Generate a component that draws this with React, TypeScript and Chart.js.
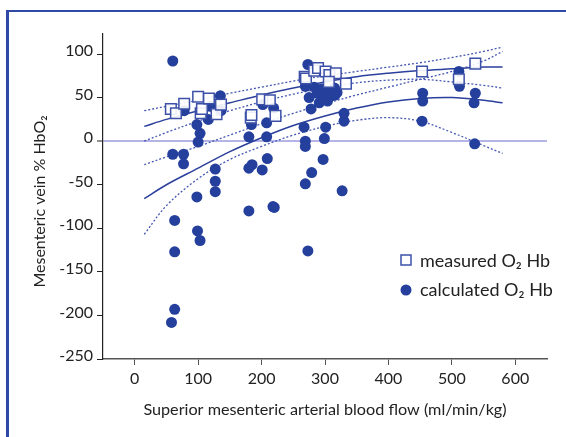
import React, { useEffect, useRef } from "react";
import { Chart, registerables } from "chart.js";

Chart.register(...registerables);

// ---- Tick labels ----
const xTicks = [0, 100, 200, 300, 400, 500, 600];
const yTicks = [-250, -200, -150, -100, -50, 0, 50, 100];

// ---- Measured O2 Hb (open squares) ----
const measuredX = [57, 65, 78, 100, 104, 106, 117, 129, 136, 183, 184, 201, 213, 222, 268, 270, 283, 289, 301, 307, 317, 333, 306, 453, 511, 537];
const measuredY = [37, 32, 43, 51, 32, 37, 49, 31, 42, 27, 30, 48, 47, 29, 74, 72, 81, 84, 80, 76, 78, 66, 68, 80, 71, 89];

// ---- Calculated O2 Hb (filled circles) ----
const calculatedX = [
  60, 60, 77, 77, 63, 63, 63, 58,
  78, 98, 103, 100, 116, 119, 135, 136,
  98, 99, 103, 127, 127, 127,
  180, 180, 185, 180, 184, 201, 208, 209, 208, 218, 220, 202, 219,
  273, 269, 275, 278, 283, 288, 291, 295, 300, 304, 302, 310, 315, 316, 319,
  330, 330, 267, 301, 269, 269, 299, 269, 279, 273, 297, 327,
  454, 454, 453, 511, 512, 537, 535, 536,
];
const calculatedY = [
  92, -15, -15, -26, -91, -127, -193, -208,
  35, 19, 9, -1, 25, 40, 52, 35,
  -64, -103, -114, -32, -46, -58,
  5, -31, -27, -80, 19, -33, 5, -20, 21, -75, -76, 42, 38,
  88, 63, 50, 37, 62, 55, 44, 60, 50, 46, 57, 52, 61, 53, 56,
  32, 23, 16, 16, 0, -6, 3, -49, -36, -126, -21, -57,
  55, 46, 23, 80, 63, 55, 44, -3,
];

// ---- Fitted curves and confidence bands ----
const fitX = [15, 50, 100, 150, 200, 250, 300, 350, 400, 450, 500, 550, 580];
const measuredFit = [17, 25, 35, 44, 53, 61, 68, 74, 78, 81, 83, 85, 85];
const measuredUpper = [35, 40, 47, 55, 62, 69, 75, 80, 85, 90, 96, 103, 108];
const measuredLower = [0, 10, 23, 35, 45, 54, 61, 67, 70, 71, 68, 64, 61];
const calculatedFit = [-66, -50, -31, -12, 4, 18, 29, 38, 45, 49, 50, 47, 44];
const calculatedUpper = [-27, -18, -6, 7, 20, 32, 43, 53, 62, 71, 80, 92, 103];
const calculatedLower = [-107, -74, -43, -21, -6, 7, 17, 24, 27, 23, 10, -5, -14];

const legendLabels = ["measured O\u2082 Hb", "calculated O\u2082 Hb"];
const xTitle = "Superior mesenteric arterial blood flow (ml/min/kg)";
const yTitle = "Mesenteric vein % HbO\u2082";

const FONT = "Lato, 'Open Sans', sans-serif";
const DARK = "#222222";
const CIRCLE = "#253f9d";
const SQUARE = "#3d50a8";
const LINE = "#2b3f9c";
const DOT = "#4457b2";

const toPoints = (xs: number[], ys: number[]) => xs.map((x, i) => ({ x, y: ys[i] }));

const annotationPlugin = {
  id: "insideLegendAndYTitle",
  afterDraw(chart: any) {
    const { ctx, chartArea } = chart;
    ctx.save();
    // y-axis title
    ctx.fillStyle = DARK;
    ctx.font = `16px ${FONT}`;
    ctx.textAlign = "center";
    ctx.textBaseline = "middle";
    ctx.translate(chartArea.left - 63, (chartArea.top + chartArea.bottom) / 2 + 5);
    ctx.rotate(-Math.PI / 2);
    ctx.fillText(yTitle, 0, 0);
    ctx.restore();

    // legend
    const bx = chartArea.left + 303;
    const by1 = chartArea.top + 226;
    const by2 = chartArea.top + 256;
    ctx.save();
    ctx.strokeStyle = SQUARE;
    ctx.lineWidth = 1.5;
    ctx.fillStyle = "#ffffff";
    ctx.fillRect(bx - 5, by1 - 5, 10, 10);
    ctx.strokeRect(bx - 5, by1 - 5, 10, 10);
    ctx.fillStyle = CIRCLE;
    ctx.beginPath();
    ctx.arc(bx, by2, 5.5, 0, Math.PI * 2);
    ctx.fill();
    ctx.fillStyle = DARK;
    ctx.font = `18px ${FONT}`;
    ctx.textBaseline = "middle";
    ctx.textAlign = "left";
    ctx.fillText(legendLabels[0], bx + 14, by1 + 1);
    ctx.fillText(legendLabels[1], bx + 14, by2);
    ctx.restore();
  },
};

function fitDataset(ys: number[], dotted: boolean) {
  return {
    data: toPoints(fitX, ys),
    showLine: true,
    pointRadius: 0,
    borderColor: dotted ? DOT : LINE,
    borderWidth: dotted ? 1.3 : 1.5,
    borderDash: dotted ? [2, 2] : [],
    tension: 0.35,
    fill: false,
    order: 2,
  };
}

export default function App() {
  const canvasRef = useRef<HTMLCanvasElement | null>(null);

  useEffect(() => {
    let chart: Chart | null = null;
    let cancelled = false;
    const build = () => {
      if (cancelled || !canvasRef.current) return;
      chart = new Chart(canvasRef.current, {
        type: "scatter",
        data: {
          datasets: [
            {
              label: "measured",
              data: toPoints(measuredX, measuredY),
              pointStyle: "rect",
              pointRadius: 7.5,
              backgroundColor: "rgba(255,255,255,0.9)",
              borderColor: SQUARE,
              borderWidth: 1.5,
              order: 0,
            },
            {
              label: "calculated",
              data: toPoints(calculatedX, calculatedY),
              pointStyle: "circle",
              pointRadius: 5.5,
              backgroundColor: CIRCLE,
              borderColor: CIRCLE,
              borderWidth: 0,
              order: 1,
            },
            fitDataset(measuredFit, false),
            fitDataset(measuredUpper, true),
            fitDataset(measuredLower, true),
            fitDataset(calculatedFit, false),
            fitDataset(calculatedUpper, true),
            fitDataset(calculatedLower, true),
          ] as any,
        },
        options: {
          responsive: false,
          animation: false,
          layout: { padding: { top: 34, right: 19, left: 0, bottom: 0 } },
          plugins: { legend: { display: false }, tooltip: { enabled: false } },
          scales: {
            x: {
              type: "linear",
              min: -50,
              max: 650,
              afterBuildTicks: (s: any) => {
                s.ticks = xTicks.map((v) => ({ value: v }));
              },
              afterFit: (s: any) => {
                s.height = 78;
              },
              grid: { drawOnChartArea: false, tickLength: 6, color: "#555", tickColor: "#555", tickWidth: 1 },
              border: { color: "#555", width: 1.5 },
              ticks: { font: { family: FONT, size: 16 }, color: DARK, padding: 4, maxRotation: 0 },
              title: {
                display: true,
                text: xTitle,
                font: { family: FONT, size: 16.2 },
                color: DARK,
                padding: { top: 0, bottom: 18 },
              },
            },
            y: {
              type: "linear",
              min: -250,
              max: 123,
              afterBuildTicks: (s: any) => {
                s.ticks = yTicks.map((v) => ({ value: v }));
              },
              afterFit: (s: any) => {
                s.width = 103;
              },
              grid: {
                drawOnChartArea: true,
                color: (c: any) => (c.tick && c.tick.value === 0 ? "#b4b4e6" : "rgba(0,0,0,0)"),
                lineWidth: (c: any) => (c.tick && c.tick.value === 0 ? 2 : 1),
                tickColor: DARK,
                tickWidth: 1,
                tickLength: 6,
              },
              border: { color: DARK, width: 1.2 },
              ticks: { font: { family: FONT, size: 16 }, color: DARK, padding: 4, labelOffset: -3 },
              title: { display: false, text: yTitle },
            },
          },
        } as any,
        plugins: [annotationPlugin],
      });
    };
    const fonts: any = (document as any).fonts;
    if (fonts && fonts.load) {
      Promise.all([fonts.load(`16px Lato`), fonts.load(`18px Lato`)])
        .catch(() => null)
        .then(build);
    } else {
      build();
    }
    return () => {
      cancelled = true;
      if (chart) chart.destroy();
    };
  }, []);

  return (
    <div style={{ position: "fixed", left: 0, top: 0, width: 566, height: 437, background: "#ffffff", overflow: "hidden" }}>
      <div
        style={{
          position: "absolute",
          left: 6,
          top: 10,
          width: 600,
          height: 500,
          borderLeft: "3px solid #2f4aa6",
          borderTop: "2px solid #2f4aa6",
        }}
      />
      <canvas
        ref={canvasRef}
        width={566}
        height={437}
        style={{ position: "absolute", left: 0, top: 0, width: 566, height: 437 }}
      />
    </div>
  );
}
